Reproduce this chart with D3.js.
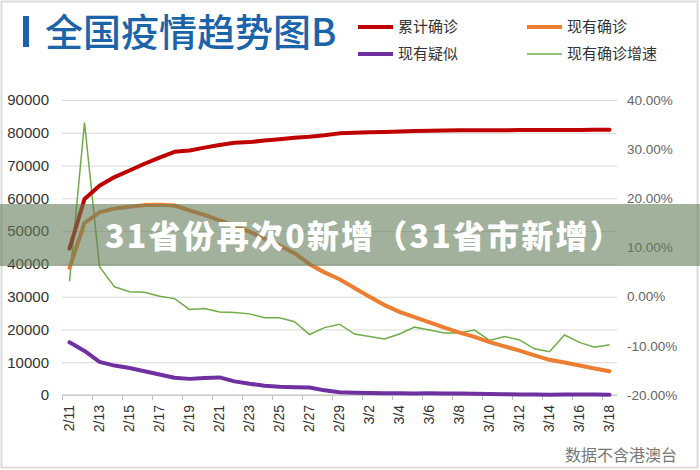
<!DOCTYPE html>
<html>
<head>
<meta charset="utf-8">
<script src="https://cdn.jsdelivr.net/npm/d3@7"></script>
<style>
  body { margin: 0; background: #fff; }
  svg { display: block; }
</style>
</head>
<body>
<script>
// dates 2/11 - 3/18 (2020)
const dates = ["2/11","2/12","2/13","2/14","2/15","2/16","2/17","2/18","2/19","2/20",
  "2/21","2/22","2/23","2/24","2/25","2/26","2/27","2/28","2/29","3/1",
  "3/2","3/3","3/4","3/5","3/6","3/7","3/8","3/9","3/10","3/11",
  "3/12","3/13","3/14","3/15","3/16","3/17","3/18"];

// 累计确诊
const cumulative = [44650,59800,63850,66490,68500,70550,72440,74190,74580,75470,
  76290,76940,77150,77660,78060,78500,78820,79250,79820,80030,
  80150,80270,80410,80550,80650,80700,80740,80750,80780,80790,
  80810,80820,80840,80860,80880,80890,80930];

// 现有确诊
const active = [38800,52530,55750,56870,57420,57930,58020,57810,56300,54970,
  53280,51610,49820,47670,45600,43260,39920,37410,35330,32650,
  30000,27430,25350,23780,22180,20530,19020,17720,16150,14830,
  13530,12090,10730,9900,8980,8060,7260];

// 现有疑似
const suspected = [16070,13440,10110,8970,8230,7260,6240,5250,4920,5210,
  5370,4150,3430,2820,2490,2360,2310,1420,850,720,
  590,520,520,480,500,460,420,350,290,250,
  150,120,110,130,130,120,110];

// 现有确诊增速 (%)
const growth = [3.1,35.4,6.1,2.0,1.0,0.9,0.1,-0.4,-2.6,-2.4,
  -3.1,-3.2,-3.5,-4.3,-4.3,-5.1,-7.7,-6.3,-5.6,-7.6,
  -8.1,-8.6,-7.6,-6.2,-6.8,-7.4,-7.4,-6.8,-8.9,-8.1,
  -8.8,-10.6,-11.2,-7.8,-9.3,-10.3,-9.8];

const leftTicks = [0,10000,20000,30000,40000,50000,60000,70000,80000,90000];
const rightTicks = [-20,-10,0,10,20,30,40];

const w = 700, h = 470;
const plotLeft = 62, plotRight = 617, plotTop = 100, plotBottom = 395;

const svg = d3.select("body").append("svg")
  .attr("width", w)
  .attr("height", h);

// frame
svg.append("rect")
  .attr("x", 1.5).attr("y", 1.5)
  .attr("width", w - 4).attr("height", h - 4)
  .attr("fill", "#fff")
  .attr("stroke", "#dcdcdc")
  .attr("stroke-width", 2);

const xScale = d3.scaleBand()
  .domain(dates)
  .range([plotLeft, plotRight]);
const bw = xScale.bandwidth();
const xc = d => xScale(d) + bw / 2;

const yLeft = d3.scaleLinear().domain([0, 90000]).range([plotBottom, plotTop]);
const yRight = d3.scaleLinear().domain([-20, 40]).range([plotBottom, plotTop]);

// left axis + grid
const yAxisG = svg.append("g")
  .attr("transform", `translate(${plotLeft},0)`)
  .call(d3.axisLeft(yLeft).tickValues(leftTicks).tickSize(-(plotRight - plotLeft)).tickPadding(13).tickFormat(d3.format("d")));
yAxisG.select(".domain").remove();
yAxisG.selectAll(".tick line").attr("stroke", "#d9d9d9");
yAxisG.selectAll("text")
  .attr("fill", "#333")
  .style("font", "15px 'Liberation Sans', Arial, sans-serif");

// right axis
const yAxisR = svg.append("g")
  .attr("transform", `translate(${plotRight},0)`)
  .call(d3.axisRight(yRight).tickValues(rightTicks).tickSize(0).tickPadding(10)
    .tickFormat(d => d.toFixed(2) + "%"));
yAxisR.select(".domain").remove();
yAxisR.selectAll("text")
  .attr("fill", "#666")
  .style("font", "13.5px 'Liberation Sans', Arial, sans-serif");

// x axis
const labelDates = dates.filter((d, i) => i % 2 === 0);
const xAxisG = svg.append("g");
xAxisG.append("line")
  .attr("x1", plotLeft).attr("x2", plotRight)
  .attr("y1", plotBottom).attr("y2", plotBottom)
  .attr("stroke", "#bfbfbf");
xAxisG.selectAll(".tk")
  .data(labelDates)
  .enter().append("line")
  .attr("x1", d => xScale(d) + 0.5).attr("x2", d => xScale(d) + 0.5)
  .attr("y1", plotBottom).attr("y2", plotBottom + 5)
  .attr("stroke", "#bfbfbf");
xAxisG.selectAll(".lbl")
  .data(labelDates)
  .enter().append("text")
  .attr("transform", d => `translate(${xc(d)},${plotBottom + 10}) rotate(-90)`)
  .attr("dy", "0.35em")
  .attr("text-anchor", "end")
  .attr("fill", "#333")
  .style("font", "14px 'Liberation Sans', Arial, sans-serif")
  .text(d => d);

// lines
const lineL = d3.line().x((d, i) => xc(dates[i])).y(d => yLeft(d));
const lineR = d3.line().x((d, i) => xc(dates[i])).y(d => yRight(d));

svg.append("path").datum(growth)
  .attr("d", lineR).attr("fill", "none")
  .attr("stroke", "#70ad47").attr("stroke-width", 1.5);

const series = [
  { data: cumulative, color: "#c00000" },
  { data: active, color: "#ed7d31" },
  { data: suspected, color: "#7030a0" }
];
series.forEach(s => {
  svg.append("path").datum(s.data)
    .attr("d", lineL).attr("fill", "none")
    .attr("stroke", s.color).attr("stroke-width", 4)
    .attr("stroke-linejoin", "round").attr("stroke-linecap", "round");
});

// title
svg.append("rect")
  .attr("x", 23).attr("y", 16)
  .attr("width", 6).attr("height", 31)
  .attr("fill", "#1c64a9");
svg.append("text")
  .attr("x", 45).attr("y", 46)
  .attr("fill", "#1c64a9")
  .style("font", "500 38px 'Noto Sans CJK SC', sans-serif")
  .text("全国疫情趋势图B");

// legend
const legend = [
  { name: "累计确诊", color: "#c00000", w: 4, x: 358, y: 27 },
  { name: "现有确诊", color: "#ed7d31", w: 4, x: 527, y: 27 },
  { name: "现有疑似", color: "#7030a0", w: 4, x: 358, y: 54 },
  { name: "现有确诊增速", color: "#70ad47", w: 1.5, x: 527, y: 54 }
];
const lg = svg.selectAll(".leg").data(legend).enter().append("g");
lg.append("line")
  .attr("x1", d => d.x).attr("x2", d => d.x + 35)
  .attr("y1", d => d.y).attr("y2", d => d.y)
  .attr("stroke", d => d.color).attr("stroke-width", d => d.w);
lg.append("text")
  .attr("x", d => d.x + 40).attr("y", d => d.y)
  .attr("dy", "0.35em")
  .attr("fill", "#333")
  .style("font", "15px 'Noto Sans CJK SC', sans-serif")
  .text(d => d.name);

// source note
svg.append("text")
  .attr("x", 677).attr("y", 461)
  .attr("text-anchor", "end")
  .attr("fill", "#777")
  .style("font", "16px 'Noto Sans CJK SC', sans-serif")
  .text("数据不含港澳台");

// banner overlay
svg.append("rect")
  .attr("x", 0).attr("y", 204)
  .attr("width", w).attr("height", 62)
  .attr("fill", "rgb(100,125,90)")
  .attr("fill-opacity", 0.6);
svg.append("text")
  .attr("x", 105).attr("y", 236)
  .attr("dy", "0.36em")
  .attr("fill", "#fff")
  .style("font", "900 32px 'Noto Sans CJK SC', sans-serif")
  .style("letter-spacing", "2.2px")
  .text("31省份再次0新增（31省市新增）");
</script>
</body>
</html>
